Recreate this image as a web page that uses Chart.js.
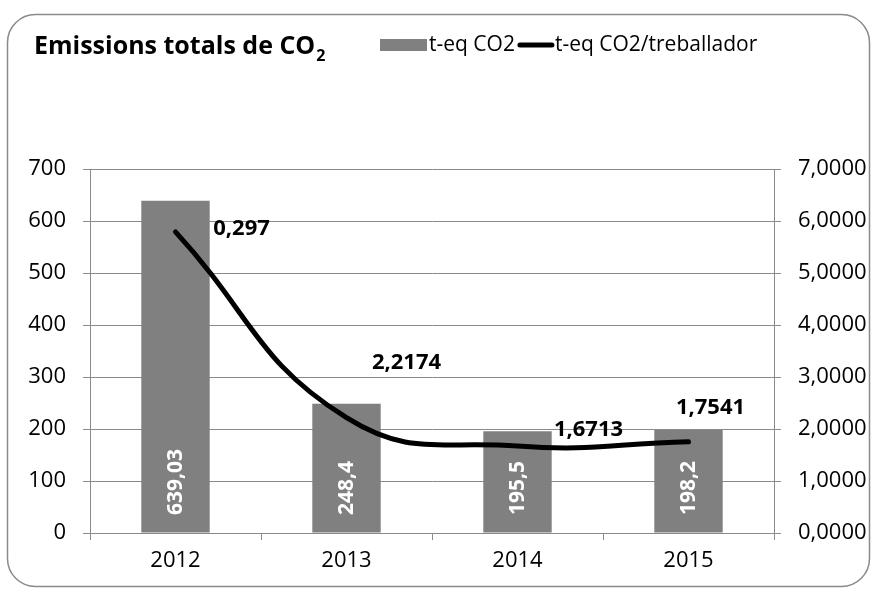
<!DOCTYPE html>
<html><head><meta charset="utf-8">
<script src="https://cdn.jsdelivr.net/npm/chart.js@4/dist/chart.umd.min.js"></script>
<style>html,body{margin:0;padding:0;background:#fff;overflow:hidden}</style>
</head><body>
<canvas id="c" width="878" height="594" style="display:block;width:878px;height:594px"></canvas>
<script>
// ---- data ----
const categories = ['2012', '2013', '2014', '2015'];
const emissions = [639.03, 248.4, 195.5, 198.2];
const emissionLabels = ['639,03', '248,4', '195,5', '198,2'];
const perWorker = [5.79, 2.2174, 1.6713, 1.7541];
const perWorkerLabels = ['0,297', '2,2174', '1,6713', '1,7541'];
const leftTicks = [0, 100, 200, 300, 400, 500, 600, 700];
const rightTicks = ['0,0000', '1,0000', '2,0000', '3,0000', '4,0000', '5,0000', '6,0000', '7,0000'];
const titleText = 'Emissions totals de CO';
const titleSub = '2';
const legendNames = ['t-eq CO2', 't-eq CO2/treballador'];

// ---- styles ----
const FONT = "'Open Sans', 'Liberation Sans', sans-serif";
const GRID = '#8a8a8a';
const BAR = '#808080';
const lineLabelOffsets = [[66, -3], [60, -55], [71, -16], [22, -34]];

const decor = {
  id: 'decor',
  beforeDraw(chart) {
    const ctx = chart.ctx;
    ctx.save();
    ctx.fillStyle = '#fff';
    ctx.fillRect(0, 0, chart.width, chart.height);
    ctx.beginPath();
    ctx.roundRect(7.5, 14.5, 862, 572, 28);
    ctx.strokeStyle = GRID;
    ctx.lineWidth = 1.5;
    ctx.stroke();
    ctx.restore();
  },
  afterDraw(chart) {
    const ctx = chart.ctx;
    ctx.save();
    // title
    ctx.fillStyle = '#000';
    ctx.textBaseline = 'alphabetic';
    ctx.textAlign = 'left';
    ctx.font = 'bold 25px ' + FONT;
    ctx.fillText(titleText, 34, 54);
    const w = ctx.measureText(titleText).width;
    ctx.font = 'bold 16px ' + FONT;
    ctx.fillText(titleSub, 34 + w + 1, 61);
    // legend
    ctx.fillStyle = BAR;
    ctx.fillRect(380, 39, 47, 12);
    ctx.fillStyle = '#000';
    ctx.textBaseline = 'middle';
    ctx.font = '21px ' + FONT;
    ctx.fillText(legendNames[0], 429, 45);
    const w0 = ctx.measureText(legendNames[0]).width;
    const lx = 429 + w0 + 5;
    ctx.beginPath();
    ctx.moveTo(lx, 45); ctx.lineTo(lx + 32, 45);
    ctx.lineWidth = 5; ctx.lineCap = 'round'; ctx.strokeStyle = '#000';
    ctx.stroke();
    ctx.fillText(legendNames[1], lx + 35, 45);

    // bar labels
    const barMeta = chart.getDatasetMeta(1);
    const yBottom = chart.scales.y.bottom;
    ctx.font = 'bold 21px ' + FONT;
    ctx.fillStyle = '#fff';
    ctx.textAlign = 'left';
    ctx.textBaseline = 'middle';
    barMeta.data.forEach((el, i) => {
      ctx.save();
      ctx.translate(el.x + 1, yBottom - 18);
      ctx.rotate(-Math.PI / 2);
      ctx.fillText(emissionLabels[i], 0, 0);
      ctx.restore();
    });
    // line labels
    const lineMeta = chart.getDatasetMeta(0);
    ctx.font = 'bold 22px ' + FONT;
    ctx.fillStyle = '#000';
    ctx.textAlign = 'center';
    lineMeta.data.forEach((el, i) => {
      const o = lineLabelOffsets[i];
      ctx.fillText(perWorkerLabels[i], el.x + o[0], el.y + o[1]);
    });
    ctx.restore();
  }
};

new Chart(document.getElementById('c'), {
  type: 'bar',
  data: {
    labels: categories,
    datasets: [
      {
        type: 'line', label: legendNames[1], data: perWorker, yAxisID: 'y1',
        borderColor: '#000', borderWidth: 5, pointRadius: 0, tension: 0.45,
        borderCapStyle: 'round', fill: false, order: 0
      },
      {
        type: 'bar', label: legendNames[0], data: emissions, yAxisID: 'y',
        backgroundColor: BAR, borderWidth: 0,
        barPercentage: 0.4, categoryPercentage: 1, order: 1
      }
    ]
  },
  options: {
    responsive: false,
    animation: false,
    devicePixelRatio: 1,
    layout: { padding: { top: 169, left: 0, right: 0, bottom: 0 } },
    plugins: { legend: { display: false }, title: { display: false }, tooltip: { enabled: false } },
    scales: {
      x: {
        offset: true,
        grid: { display: true, drawOnChartArea: false, drawTicks: true, tickLength: 7, color: GRID, offset: true },
        border: { display: true, color: GRID, width: 1 },
        ticks: { color: '#000', font: { family: FONT, size: 22 }, padding: 8, maxRotation: 0 },
        afterFit(s) { s.height = 61; }
      },
      y: {
        position: 'left', min: 0, max: 700,
        afterBuildTicks(s) { s.ticks = leftTicks.map(v => ({ value: v })); },
        grid: { color: GRID, tickLength: 7 },
        border: { display: true, color: GRID },
        ticks: { color: '#000', font: { family: FONT, size: 22 }, padding: 17, callback: v => String(v) },
        afterFit(s) { s.width = 90; }
      },
      y1: {
        position: 'right', min: 0, max: 7,
        afterBuildTicks(s) { s.ticks = rightTicks.map((t, i) => ({ value: i })); },
        grid: { drawOnChartArea: false, color: GRID, tickLength: 7 },
        border: { display: true, color: GRID },
        ticks: { color: '#000', font: { family: FONT, size: 22 }, padding: 17, callback: (v, i) => rightTicks[i] },
        afterFit(s) { s.width = 104; }
      }
    }
  },
  plugins: [decor]
});
</script>
</body></html>
